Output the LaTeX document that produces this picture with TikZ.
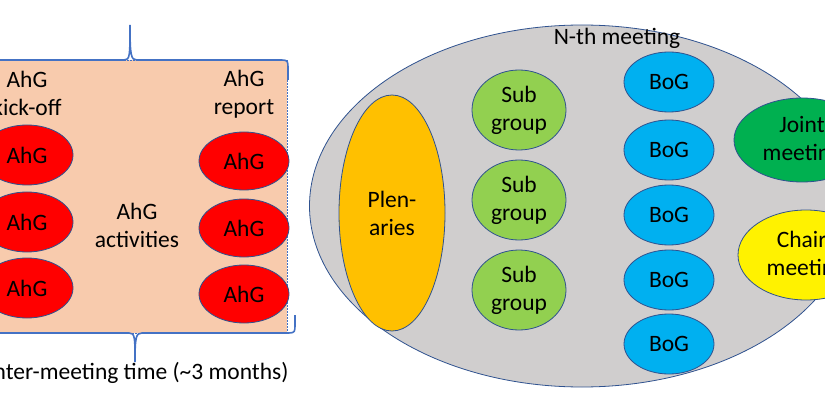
\documentclass[tikz,border=0pt]{standalone}
\usepackage{fontspec}
\setmainfont{Carlito}
\begin{document}
\begin{tikzpicture}[x=1pt,y=-1pt,
  el/.style={ellipse,draw=bordc,line width=0.8pt,inner sep=0pt,align=center},
  txt/.style={align=center,font=\fontsize{23.5}{28}\selectfont},
  brace/.style={draw=bracec,line width=1.6pt}]
\usetikzlibrary{shapes.geometric}
\definecolor{bordc}{HTML}{2F528F}
\definecolor{bracec}{HTML}{4472C4}
\definecolor{peach}{HTML}{F8CBAD}
\definecolor{grayf}{HTML}{D0CECE}
\useasboundingbox (0,0) rectangle (825,401);
% left panel
\path[fill=peach,draw=bracec,densely dotted,line width=0.5pt] (-5,60) rectangle (287,333);
\draw[brace] (-10,60) -- (124,60) .. controls (130,60) and (130,56) .. (130,25)
  .. controls (130,56) and (131,60) .. (137,60) -- (282,60) .. controls (288,60) and (288,62) .. (288,68) -- (288,80);
\draw[brace] (-10,333) -- (129,333) .. controls (135,333) and (135,337) .. (135,362)
  .. controls (135,337) and (136,333) .. (142,333) -- (289,333) .. controls (295,333) and (295,331) .. (295,325) -- (295,315);
\node[txt] (ko) at (27,93) {AhG\\kick-off};
\node[txt] (rep) at (244,94) {AhG\\report};
\node[txt] (act) at (137,225) {AhG\\activities};
\foreach \n/\y in {1/155,2/222,3/288}
  \node[el,fill=red,minimum width=92pt,minimum height=60pt,txt] (l\n) at (27,\y) {AhG};
\foreach \n/\y in {1/161,2/228,3/294}
  \node[el,fill=red,minimum width=90pt,minimum height=58pt,txt] (r\n) at (244,\y) {AhG};
\node[txt,anchor=east] (imt) at (292,373) {Inter-meeting time (\textasciitilde3 months)};
% right panel
\node[el,fill=grayf,minimum width=545pt,minimum height=362pt] (meet) at (582,206) {};
\node[txt] (nth) at (617,38) {N-th meeting};
\node[el,fill={rgb,255:red,255;green,192;blue,0},minimum width=106pt,minimum height=236pt,txt] (pl) at (392,213) {Plen-\\aries};
\foreach \n/\y in {1/110,2/200,3/290}
  \node[el,fill={rgb,255:red,146;green,208;blue,80},minimum width=94pt,minimum height=80pt,txt] (s\n) at (519,\y) {Sub\\group};
\foreach \n/\y in {1/82,2/150,3/215,4/280,5/344}
  \node[el,fill={rgb,255:red,0;green,176;blue,240},minimum width=90pt,minimum height=60pt,txt] (b\n) at (669,\y) {BoG};
\node[el,fill={rgb,255:red,0;green,176;blue,80},minimum width=136pt,minimum height=84pt,txt] (jm) at (802,140) {Joint\\meeting};
\node[el,fill=yellow,minimum width=136pt,minimum height=90pt,txt] (cm) at (806,255) {Chairs\\meeting};
\end{tikzpicture}
\end{document}
